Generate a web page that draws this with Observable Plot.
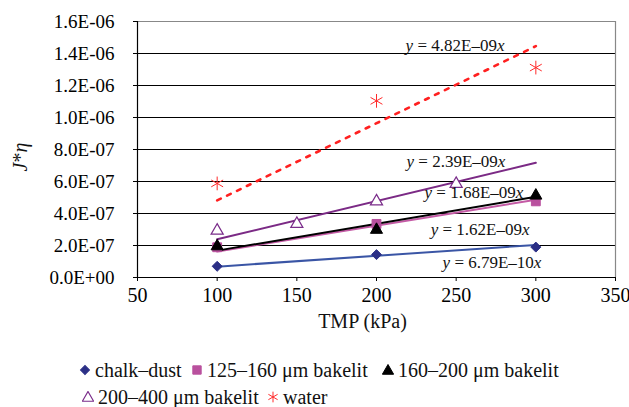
<!DOCTYPE html>
<html>
<head>
<meta charset="utf-8">
<script src="https://cdn.jsdelivr.net/npm/d3@7"></script>
<script src="https://cdn.jsdelivr.net/npm/@observablehq/plot@0.6"></script>
<style>
  body { margin: 0; background: white; font-family: "Liberation Serif", "Times New Roman", Times, "DejaVu Serif", serif; }
  #legend { position: relative; width: 629px; height: 62px; font-size: 20px; color: #111; }
  .item { position: absolute; display: flex; align-items: center; white-space: nowrap; line-height: 18px; height: 18px; }
  .item svg { margin-right: 4px; }
</style>
</head>
<body>
<div id="chart"></div>
<div id="legend"></div>
<script>
// ---- data ----
const xTicks = [50, 100, 150, 200, 250, 300, 350];
const yTicks = [0, 2e-7, 4e-7, 6e-7, 8e-7, 1.0e-6, 1.2e-6, 1.4e-6, 1.6e-6];
const seriesNames = ["chalk–dust", "125–160 μm bakelit", "160–200 μm bakelit", "200–400 μm bakelit", "water"];

const chalkX = [100, 200, 300];
const chalkY = [7.0e-8, 1.43e-7, 1.9e-7];
const b125X = [100, 200, 300];
const b125Y = [1.89e-7, 3.35e-7, 4.76e-7];
const b160X = [100, 200, 300];
const b160Y = [1.95e-7, 2.98e-7, 5.12e-7];
const b200X = [100, 150, 200, 250];
const b200Y = [2.93e-7, 3.35e-7, 4.76e-7, 5.85e-7];
const waterX = [100, 200, 300];
const waterY = [5.88e-7, 1.104e-6, 1.312e-6];

// linear trend lines through origin (y = k x), drawn over x range
const slopes = [6.79e-10, 1.62e-9, 1.68e-9, 2.39e-9, 4.82e-9];
const trendRange = [100, 300];
const eqText = ["6.79E–10", "1.62E–09", "1.68E–09", "2.39E–09", "4.82E–09"];
const eqX = [272.8, 265.3, 261.5, 250.2, 249.6];
const eqY = [9.4e-8, 3.0e-7, 5.3e-7, 7.24e-7, 1.448e-6];

// ---- styles ----
const FONT = '"Liberation Serif", "Times New Roman", Times, "DejaVu Serif", serif';
const markerFill = ["#2B2F86", "#B9509E", "#000000", "white", "none"];
const markerStroke = ["#2B2F86", "#B9509E", "#000000", "#7A2C8A", "#FF2A2A"];
const markerSymbol = ["diamond2", "square", "triangle", "triangle", "asterisk"];
const lineColor = ["#3A55A5", "#C45AA5", "#000000", "#7B2A85", "#FF2020"];

const xs = [chalkX, b125X, b160X, b200X, waterX];
const ys = [chalkY, b125Y, b160Y, b200Y, waterY];

function fmt(d) {
  if (d === 0) return "0.0E+00";
  const e = Math.floor(Math.log10(Math.abs(d)) + 1e-9);
  const m = d / Math.pow(10, e);
  return m.toFixed(1) + "E" + (e < 0 ? "-" : "+") + String(Math.abs(e)).padStart(2, "0");
}

const trendMarks = slopes.map((k, i) => Plot.line(
  trendRange.map(x => ({x, y: k * x})),
  {x: "x", y: "y", stroke: lineColor[i], strokeWidth: i === 4 ? 2.6 : 2,
   strokeDasharray: i === 4 ? "4 7" : null}
));

const dotMarks = xs.map((xArr, i) => Plot.dot(
  xArr.map((x, j) => ({x, y: ys[i][j]})),
  {x: "x", y: "y", symbol: () => markerSymbol[i], fill: markerFill[i], stroke: markerStroke[i],
   r: i === 1 ? 5 : i === 4 ? 6.5 : 4.5, strokeWidth: i === 3 ? 1.2 : 1}
));

const chart = Plot.plot({
  width: 629,
  height: 345,
  marginTop: 21,
  marginRight: 14,
  marginBottom: 68,
  marginLeft: 137,
  style: {fontFamily: FONT, background: "white", color: "black"},
  x: {domain: [50, 350]},
  y: {domain: [0, 1.6e-6]},
  symbol: {type: "identity"},
  marks: [
    Plot.ruleY(yTicks.filter(d => d > 0 && d < 1.6e-6), {stroke: "black", strokeWidth: 1}),
    Plot.ruleY([1.6e-6], {stroke: "#888", strokeWidth: 1.2}),
    Plot.ruleX([350], {stroke: "#888", strokeWidth: 1.2}),
    Plot.axisY({ticks: yTicks, tickFormat: fmt, tickSize: 4, tickPadding: 19, fontSize: 19, label: null}),
    Plot.axisX({ticks: xTicks, tickSize: 4, tickPadding: 6, fontSize: 20, label: null, tickFormat: d => String(d)}),
    Plot.ruleY([0], {stroke: "black", strokeWidth: 1.2}),
    Plot.ruleX([50], {stroke: "black", strokeWidth: 1.2}),
    ...trendMarks,
    ...dotMarks,
    Plot.text(["TMP (kPa)"], {frameAnchor: "bottom", dy: 50, dx: -14, fontSize: 20, fill: "#111"})
  ]
});
document.getElementById("chart").appendChild(chart);

// equation labels with italic y / x, placed through the chart's scales
const sx = chart.scale("x"), sy = chart.scale("y");
const svg = d3.select(chart);
eqText.forEach((t, i) => {
  const txt = svg.append("text")
    .attr("x", sx.apply(eqX[i]))
    .attr("y", sy.apply(eqY[i]))
    .attr("dy", "0.35em")
    .attr("text-anchor", "middle")
    .attr("font-size", 17)
    .style("font-family", FONT)
    .attr("fill", "#111");
  txt.append("tspan").attr("font-style", "italic").text("y");
  txt.append("tspan").text(" = " + t);
  txt.append("tspan").attr("font-style", "italic").text("x");
});

// y-axis label J*η
const yl = svg.append("text")
  .attr("transform", "translate(27,157) rotate(-90)")
  .attr("text-anchor", "middle")
  .attr("font-size", 20)
  .style("font-family", FONT)
  .attr("fill", "#111");
yl.append("tspan").attr("font-style", "italic").text("J");
yl.append("tspan").text("*");
yl.append("tspan").attr("font-style", "italic").text("η");

// legend
const legendPos = [[79, 16], [191, 16], [382, 16], [82, 43], [267, 43]];
const legend = d3.select("#legend");
seriesNames.forEach((name, i) => {
  const item = legend.append("div").attr("class", "item")
    .style("left", legendPos[i][0] + "px").style("top", legendPos[i][1] + "px");
  const s = item.append("svg").attr("width", 12).attr("height", 12);
  const symMap = {diamond2: d3.symbolSquare, square: d3.symbolSquare, triangle: d3.symbolTriangle, asterisk: d3.symbolAsterisk};
  const size = i === 0 ? 40 : i === 1 ? 70 : i === 4 ? 80 : 55;
  s.append("path")
    .attr("d", d3.symbol(symMap[markerSymbol[i]], size)())
    .attr("transform", "translate(6," + (i === 2 || i === 3 ? 7 : 6) + ")" + (i === 0 ? " rotate(45)" : ""))
    .attr("fill", markerFill[i])
    .attr("stroke", markerStroke[i])
    .attr("stroke-width", i === 3 ? 1.2 : 1);
  item.append("span").text(name);
});
</script>
</body>
</html>
